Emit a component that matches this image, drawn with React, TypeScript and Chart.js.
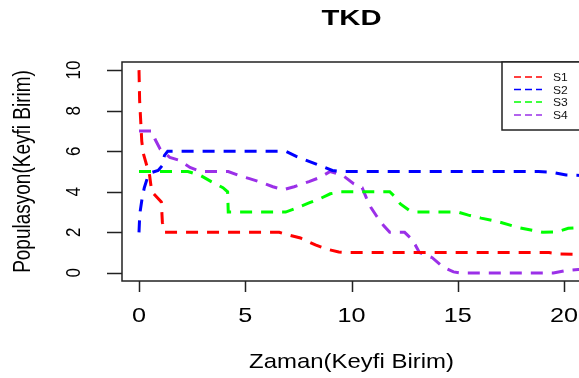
import React, { useEffect, useRef } from "react";
import { Chart, registerables } from "chart.js";

Chart.register(...registerables);

// ---- data ----
const TITLE = "TKD";
const X_LABEL = "Zaman(Keyfi Birim)";
const Y_LABEL = "Populasyon(Keyfi Birim)";
const X_TICKS = [0, 5, 10, 15, 20];
const Y_TICKS = [0, 2, 4, 6, 8, 10];
const SERIES_NAMES = ["S1", "S2", "S3", "S4"];
const SERIES_COLORS = ["#ff0000", "#0000ff", "#00ff00", "#9b30e8"];

const s1X = [0, 0.03, 0.08, 0.13, 0.2, 0.5, 0.6, 1.05, 1.1, 1.2, 6.6, 7.0, 7.6, 8.3, 8.8, 9.4, 9.8, 18.8, 19.3, 19.8, 21];
const s1Y = [10, 8.5, 7.5, 6.5, 5.9, 4.8, 4.0, 3.5, 2.5, 2.0, 2.0, 1.88, 1.72, 1.38, 1.18, 1.03, 1.0, 1.0, 1.0, 0.93, 0.9];

const s2X = [0, 0.02, 0.05, 0.15, 0.25, 0.4, 0.6, 0.9, 1.1, 1.2, 1.35, 6.9, 7.4, 8.0, 8.5, 9.1, 9.5, 18.8, 19.4, 20.1, 21];
const s2Y = [2, 2.5, 3.0, 3.7, 4.2, 4.7, 4.95, 5.05, 5.3, 5.8, 6.0, 6.0, 5.75, 5.5, 5.3, 5.05, 5.0, 5.0, 4.97, 4.83, 4.8];

const s3X = [0, 2.3, 2.9, 3.4, 3.95, 4.17, 4.2, 6.9, 7.3, 8.0, 8.5, 9.0, 9.5, 11.8, 12.0, 12.3, 12.7, 13.0, 15.0, 15.5, 16.1, 17.0, 17.8, 18.5, 19.0, 19.7, 20.2, 21];
const s3Y = [5, 5, 4.8, 4.5, 4.2, 4.0, 3.0, 3.0, 3.15, 3.45, 3.65, 3.9, 4.0, 4.0, 3.8, 3.4, 3.1, 3.0, 3.0, 2.85, 2.7, 2.5, 2.25, 2.1, 2.0, 2.03, 2.2, 2.25];

const s4X = [0, 0.6, 0.75, 1.0, 1.45, 1.9, 2.4, 2.9, 4.2, 4.7, 5.2, 5.8, 6.3, 6.8, 7.3, 8.0, 8.5, 9.0, 9.6, 10.1, 10.5, 10.7, 10.9, 11.2, 11.5, 11.8, 12.5, 12.75, 13.0, 13.2, 13.8, 14.3, 14.8, 15.1, 19.5, 20.1, 21];
const s4Y = [7, 7, 6.6, 6.1, 5.7, 5.55, 5.2, 5.0, 5.0, 4.8, 4.65, 4.45, 4.25, 4.1, 4.25, 4.5, 4.7, 5.0, 4.8, 4.4, 4.2, 3.7, 3.25, 2.77, 2.35, 2.0, 2.0, 1.75, 1.38, 1.0, 0.75, 0.3, 0.05, 0, 0, 0.12, 0.2];

const SERIES_X = [s1X, s2X, s3X, s4X];
const SERIES_Y = [s1Y, s2Y, s3Y, s4Y];

const FONT = "'Liberation Sans', Arial, sans-serif";

function drawText(
  ctx: CanvasRenderingContext2D,
  text: string,
  x: number,
  y: number,
  o: { size: number; bold?: boolean; align?: CanvasTextAlign; baseline?: CanvasTextBaseline; rot?: number; sx?: number; sy?: number; color?: string }
) {
  ctx.save();
  ctx.translate(x, y);
  if (o.rot) ctx.rotate(o.rot);
  ctx.scale(o.sx ?? 1, o.sy ?? 1);
  ctx.font = `${o.bold ? "bold " : ""}${o.size}px ${FONT}`;
  ctx.textAlign = o.align ?? "center";
  ctx.textBaseline = o.baseline ?? "alphabetic";
  ctx.fillStyle = o.color ?? "#000";
  ctx.fillText(text, 0, 0);
  ctx.restore();
}

const rStylePlugin = {
  id: "rStyle",
  afterDraw(chart: any) {
    const ctx: CanvasRenderingContext2D = chart.ctx;
    const { left, right, top, bottom } = chart.chartArea;
    const xs = chart.scales.x;
    const ys = chart.scales.y;
    ctx.save();
    // plot box
    ctx.strokeStyle = "#222";
    ctx.lineWidth = 1.5;
    ctx.setLineDash([]);
    ctx.strokeRect(left, top, right - left, bottom - top);
    // x ticks
    ctx.beginPath();
    X_TICKS.forEach((v) => {
      const px = Math.round(xs.getPixelForValue(v)) + 0.5;
      ctx.moveTo(px, bottom);
      ctx.lineTo(px, bottom + 11);
    });
    Y_TICKS.forEach((v) => {
      const py = Math.round(ys.getPixelForValue(v)) + 0.5;
      ctx.moveTo(left, py);
      ctx.lineTo(left - 15, py);
    });
    ctx.stroke();
    // tick labels
    X_TICKS.forEach((v) => {
      drawText(ctx, String(v), xs.getPixelForValue(v), 322, { size: 21, sx: 1.2 });
    });
    Y_TICKS.forEach((v) => {
      drawText(ctx, String(v), 80, ys.getPixelForValue(v), { size: 17, rot: -Math.PI / 2, sy: 1.15 });
    });
    // axis titles
    drawText(ctx, X_LABEL, (left + right) / 2, 368, { size: 21, sx: 1.14 });
    drawText(ctx, Y_LABEL, 30, (top + bottom) / 2, { size: 19, rot: -Math.PI / 2, sy: 1.3 });
    // title
    drawText(ctx, TITLE, (left + right) / 2, 25, { size: 22, bold: true, sx: 1.33 });
    // legend
    const lgLeft = 502;
    const lgBottom = 130;
    ctx.fillStyle = "#fff";
    ctx.fillRect(lgLeft, top, 200, lgBottom - top);
    ctx.strokeStyle = "#222";
    ctx.lineWidth = 1.5;
    ctx.strokeRect(lgLeft, top, 200, lgBottom - top);
    const rowY = [77, 89.5, 102, 115];
    SERIES_NAMES.forEach((name, i) => {
      const y = rowY[i];
      ctx.save();
      ctx.strokeStyle = SERIES_COLORS[i];
      ctx.lineWidth = 1.5;
      ctx.setLineDash([7, 4]);
      ctx.beginPath();
      ctx.moveTo(514, y);
      ctx.lineTo(542, y);
      ctx.stroke();
      ctx.restore();
      drawText(ctx, name, 553, y + 4, { size: 10.5, align: "left", sx: 1.15, color: "#111" });
    });
    ctx.restore();
  },
};

export default function App() {
  const ref = useRef<HTMLCanvasElement | null>(null);
  useEffect(() => {
    if (!ref.current) return;
    const chart = new Chart(ref.current, {
      type: "line",
      data: {
        datasets: SERIES_NAMES.map((name, i) => ({
          label: name,
          data: SERIES_X[i].map((x, j) => ({ x, y: SERIES_Y[i][j] })),
          borderColor: SERIES_COLORS[i],
          backgroundColor: SERIES_COLORS[i],
          borderWidth: 3,
          borderDash: [12, 9],
          borderCapStyle: "butt" as const,
          pointRadius: 0,
          tension: 0,
          fill: false,
        })),
      },
      options: {
        responsive: false,
        animation: false,
        devicePixelRatio: 1,
        layout: { padding: { left: 122, top: 62, right: 19, bottom: 97 } },
        plugins: { legend: { display: false }, title: { display: false }, tooltip: { enabled: false } },
        scales: {
          x: { type: "linear", min: -0.8, max: 20.8, display: false },
          y: { type: "linear", min: -0.4, max: 10.4, display: false },
        },
      },
      plugins: [rStylePlugin],
    });
    return () => chart.destroy();
  }, []);
  return (
    <div style={{ position: "fixed", left: 0, top: 0, width: 579, height: 378, overflow: "hidden", background: "#fff" }}>
      <canvas ref={ref} width={600} height={378} style={{ display: "block" }} />
    </div>
  );
}
